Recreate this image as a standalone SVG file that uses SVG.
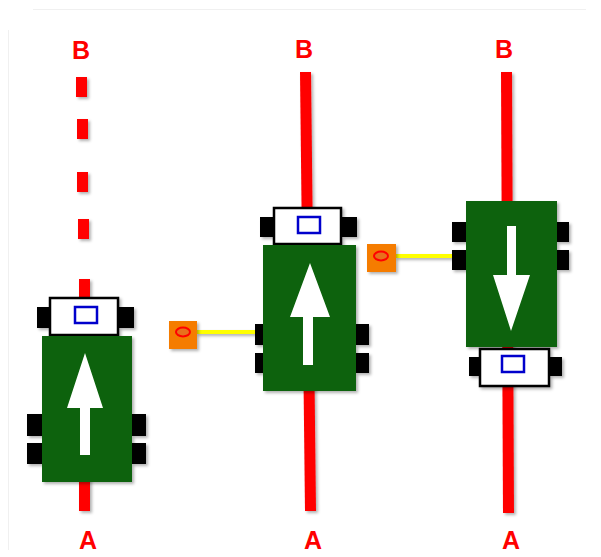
<svg xmlns="http://www.w3.org/2000/svg" width="601" height="557" viewBox="0 0 601 557">
  <defs>
    <filter id="shade" x="-20%" y="-20%" width="150%" height="150%">
      <feDropShadow dx="2" dy="2" stdDeviation="1.4" flood-color="#000" flood-opacity="0.3"/>
    </filter>
    <style>
      .track { fill: #ff0000; }
      .label { font-family: "Liberation Sans", Arial, sans-serif; font-weight: bold; font-size: 25px; fill: #ff0000; text-anchor: middle; }
      .body { fill: #0a620a; }
      .bumper { fill: #ffffff; stroke: #000000; stroke-width: 2.5; }
      .eye { fill: none; stroke: #0000cc; stroke-width: 2.5; }
      .pad { fill: #000000; }
      .arrow { fill: #ffffff; }
      .sensor { fill: #f57c00; }
      .lens { fill: #e8701a; stroke: #ff0000; stroke-width: 2; }
      .wire { stroke: #ffff00; stroke-width: 4; fill: none; }
      .frame { stroke: #f0f0f0; stroke-width: 1; fill: none; }
    </style>
  </defs>

  <rect width="601" height="557" fill="#ffffff"/>
  <path class="frame" d="M33 9.5H586"/>
  <path class="frame" d="M8.5 30V550"/>

  <!-- tracks -->
  <g id="tracks" filter="url(#shade)">
    <rect class="track" x="76" y="77" width="11" height="20"/>
    <rect class="track" x="77" y="119" width="11" height="20"/>
    <rect class="track" x="77" y="172" width="11" height="20"/>
    <rect class="track" x="78" y="219" width="11" height="20"/>
    <rect class="track" x="79" y="279" width="11" height="18"/>
    <rect class="track" x="79" y="470" width="11" height="41"/>
    <polygon class="track" points="300,72 311,72 316,511 305,511"/>
    <polygon class="track" points="501,72 512,72 514,513 503,513"/>
  </g>

  <!-- labels -->
  <g id="labels">
    <text class="label" x="81" y="59">B</text>
    <text class="label" x="304" y="58">B</text>
    <text class="label" x="504" y="58">B</text>
    <text class="label" x="88" y="549">A</text>
    <text class="label" x="313" y="549">A</text>
    <text class="label" x="511" y="549">A</text>
  </g>

  <!-- connectors -->
  <g id="connectors" filter="url(#shade)">
    <path class="wire" d="M196 332H258"/>
    <path class="wire" d="M395 256H456"/>
  </g>

  <!-- robot 1 (left, moving up) -->
  <g id="robot1" filter="url(#shade)">
    <rect class="pad" x="37" y="307" width="12" height="21"/>
    <rect class="pad" x="118" y="307" width="16" height="21"/>
    <rect class="bumper" x="50" y="298" width="68" height="37"/>
    <rect class="eye" x="75" y="307" width="22" height="16"/>
    <rect class="pad" x="27" y="414" width="16" height="22"/>
    <rect class="pad" x="27" y="443" width="16" height="21"/>
    <rect class="pad" x="130" y="414" width="16" height="22"/>
    <rect class="pad" x="130" y="443" width="16" height="21"/>
    <rect class="body" x="42" y="336" width="90" height="146"/>
    <polygon class="arrow" points="85,353 103,408 90,408 90,455 80,455 80,408 67,408"/>
  </g>

  <!-- robot 2 (middle, moving up) -->
  <g id="robot2" filter="url(#shade)">
    <rect class="pad" x="260" y="217" width="13" height="20"/>
    <rect class="pad" x="341" y="217" width="16" height="20"/>
    <rect class="bumper" x="274" y="208" width="67" height="36"/>
    <rect class="eye" x="298" y="217" width="22" height="16"/>
    <rect class="pad" x="255" y="324" width="12" height="21"/>
    <rect class="pad" x="255" y="353" width="12" height="20"/>
    <rect class="pad" x="354" y="324" width="15" height="21"/>
    <rect class="pad" x="354" y="353" width="15" height="20"/>
    <rect class="body" x="263" y="245" width="93" height="146"/>
    <polygon class="arrow" points="310,263 330,317 313,317 313,365 303,365 303,317 290,317"/>
  </g>

  <!-- robot 3 (right, moving down) -->
  <g id="robot3" filter="url(#shade)">
    <rect class="pad" x="452" y="222" width="15" height="20"/>
    <rect class="pad" x="452" y="250" width="15" height="20"/>
    <rect class="pad" x="553" y="222" width="16" height="20"/>
    <rect class="pad" x="553" y="250" width="16" height="20"/>
    <rect class="body" x="466" y="201" width="91" height="146"/>
    <polygon class="arrow" points="507,226 516,226 516,275 530,275 511,331 493,275 507,275"/>
    <rect class="pad" x="469" y="357" width="11" height="19"/>
    <rect class="pad" x="549" y="357" width="13" height="19"/>
    <rect class="bumper" x="480" y="349" width="69" height="37"/>
    <rect class="eye" x="502" y="356" width="22" height="16"/>
  </g>

  <!-- sensors -->
  <g id="sensor1" filter="url(#shade)">
    <rect class="sensor" x="169" y="321" width="28" height="28"/>
    <ellipse class="lens" cx="183" cy="332" rx="7" ry="4.5"/>
  </g>
  <g id="sensor2" filter="url(#shade)">
    <rect class="sensor" x="367" y="244" width="29" height="28"/>
    <ellipse class="lens" cx="381" cy="256" rx="7" ry="4.5"/>
  </g>
</svg>
